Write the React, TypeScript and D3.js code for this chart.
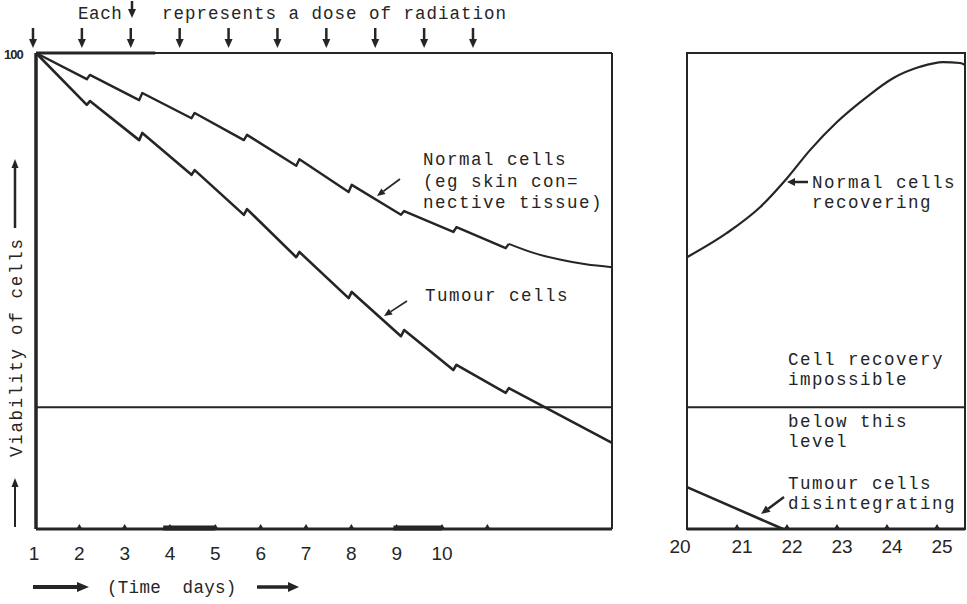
import React from 'react';
import * as d3 from 'd3';

// values (viability %, 100 = untreated)
const doseDays = [1, 2, 3, 4, 5, 6, 7, 8, 9];
const normalBefore = [94.5, 90.1, 86.3, 81.7, 76.3, 70.8, 66.0, 62.4, 59.0];
const normalAfter = [95.4, 91.6, 87.4, 82.8, 77.7, 72.3, 66.8, 63.4, 59.9];
const normalTailDays = [9.5, 10, 10.5, 11];
const normalTailValues = [58.0, 56.6, 55.6, 55.0];
const tumourBefore = [89.1, 81.7, 74.4, 66.0, 57.1, 48.5, 40.5, 33.4, 28.6];
const tumourAfter = [89.9, 83.2, 75.4, 67.2, 58.2, 49.8, 41.8, 34.5, 29.6];
const tumourEnd = { day: 11, value: 18.1 };
const thresholdLevel = 25.6;

const dayLabels = [1, 2, 3, 4, 5, 6, 7, 8, 9, 10];
const tickDays = [2, 3, 4, 5, 6, 7, 8, 9, 10, 11];
const heavyAxisSpans = [
  [3.85, 5.0],
  [8.93, 10.0],
];
const radiationDays = [1, 2, 3, 4, 5, 6, 7, 8, 9, 10];

const laterDays = [20, 21, 22, 23, 24, 25];
const recoveryDays = [20, 20.8, 21.46, 22.0, 22.46, 23.0, 23.6, 24.12, 24.66, 25.12, 25.46, 25.56];
const recoveryValues = [57.1, 62.2, 67.6, 73.7, 79.6, 85.5, 90.8, 94.7, 97.1, 98.1, 97.9, 97.5];
const disintegrateDays = [20, 21.92];
const disintegrateValues = [8.8, 0];

const ink = '#252525';
const mono = '"Liberation Mono", "DejaVu Sans Mono", monospace';
const sans = '"Liberation Sans", Arial, sans-serif';

type ArrowProps = {
  x1: number;
  y1: number;
  x2: number;
  y2: number;
  w?: number;
  head?: number;
  spread?: number;
};

function Arrow({ x1, y1, x2, y2, w = 2, head = 8, spread = 3.5 }: ArrowProps) {
  const a = Math.atan2(y2 - y1, x2 - x1);
  const bx = x2 - head * Math.cos(a);
  const by = y2 - head * Math.sin(a);
  const px = -Math.sin(a) * spread;
  const py = Math.cos(a) * spread;
  return (
    <g>
      <line x1={x1} y1={y1} x2={bx} y2={by} stroke={ink} strokeWidth={w} />
      <path
        d={`M ${x2} ${y2} L ${bx + px} ${by + py} L ${bx - px} ${by - py} Z`}
        fill={ink}
      />
    </g>
  );
}

function App() {
  const top = 53;
  const bottom = 529;

  const y = d3.scaleLinear().domain([0, 100]).range([bottom, top]);
  // course of treatment (curves)
  const x = d3.scaleLinear().domain([0, 11]).range([36, 612]);
  // hand-lettered day labels under the axis
  const xLabel = d3.scaleLinear().domain([1, 10]).range([34, 442]);
  // dose arrows along the top
  const xDose = d3.scaleLinear().domain([1, 10]).range([33, 473]);
  // later days panel
  const xLate = d3.scaleLinear().domain([20, 25]).range([687, 937]);
  const lateRight = xLate(25.56);

  const lineLinear = d3
    .line<[number, number]>()
    .x((d) => x(d[0]))
    .y((d) => y(d[1]));
  const smooth = d3
    .line<[number, number]>()
    .x((d) => x(d[0]))
    .y((d) => y(d[1]))
    .curve(d3.curveMonotoneX);

  const sawtooth = (before: number[], after: number[]) => {
    const pts: [number, number][] = [[0, 100]];
    doseDays.forEach((d, i) => {
      pts.push([d - 0.03, before[i]]);
      pts.push([d + 0.03, after[i]]);
    });
    return pts;
  };

  const normalPts = sawtooth(normalBefore, normalAfter);
  const lastNormal = normalPts[normalPts.length - 1];
  const normalTail: [number, number][] = [
    lastNormal,
    ...normalTailDays.map((d, i) => [d, normalTailValues[i]] as [number, number]),
  ];
  const tumourPts = [
    ...sawtooth(tumourBefore, tumourAfter),
    [tumourEnd.day, tumourEnd.value] as [number, number],
  ];

  const lateLine = d3
    .line<[number, number]>()
    .x((d) => xLate(d[0]))
    .y((d) => y(d[1]))
    .curve(d3.curveMonotoneX);
  const lateStraight = d3
    .line<[number, number]>()
    .x((d) => xLate(d[0]))
    .y((d) => y(d[1]));
  const recovery = recoveryDays.map((d, i) => [d, recoveryValues[i]] as [number, number]);
  const disintegrate = disintegrateDays.map(
    (d, i) => [d, disintegrateValues[i]] as [number, number]
  );

  const textStyle = { fontFamily: mono, fontSize: 17.5, letterSpacing: 1.5, fill: ink } as const;
  const numStyle = { fontFamily: sans, fontSize: 19, fill: ink } as const;

  return (
    <svg
      width={967}
      height={604}
      style={{ position: 'absolute', left: 0, top: 0, background: '#fff' }}
    >
      {/* title with dose arrows */}
      <text x={78} y={19} style={{ ...textStyle, letterSpacing: 0.6 }}>
        Each
      </text>
      <Arrow x1={132} y1={1} x2={132} y2={18} w={2.5} head={9} spread={4} />
      <text x={162} y={19} style={{ ...textStyle, letterSpacing: 1.0 }}>
        represents a dose of radiation
      </text>
      {radiationDays.map((d) => (
        <Arrow key={d} x1={xDose(d)} y1={28} x2={xDose(d)} y2={48} w={2.5} head={9} spread={4} />
      ))}

      {/* main panel */}
      <text
        x={4}
        y={59}
        style={{ fontFamily: sans, fontSize: 13, fontWeight: 700, fill: ink, letterSpacing: -1 }}
      >
        100
      </text>
      <line x1={x(0)} x2={x(11)} y1={top} y2={top} stroke={ink} strokeWidth={2} />
      <line x1={x(0)} x2={xDose(3.5)} y1={top} y2={top} stroke={ink} strokeWidth={3} />
      <line x1={x(0)} x2={x(0)} y1={top} y2={bottom} stroke={ink} strokeWidth={3.5} />
      <line x1={x(11)} x2={x(11)} y1={top} y2={bottom} stroke={ink} strokeWidth={2} />
      <line x1={x(0)} x2={x(11)} y1={bottom} y2={bottom} stroke={ink} strokeWidth={3} />
      <line
        x1={x(0)}
        x2={x(11)}
        y1={y(thresholdLevel)}
        y2={y(thresholdLevel)}
        stroke={ink}
        strokeWidth={2}
      />
      {heavyAxisSpans.map(([a, b]) => (
        <rect
          key={a}
          x={xLabel(a)}
          y={bottom - 3.5}
          width={xLabel(b) - xLabel(a)}
          height={5}
          fill={ink}
        />
      ))}
      {tickDays.map((d) => (
        <path
          key={d}
          d={`M ${xLabel(d) - 3} ${bottom} L ${xLabel(d)} ${bottom - 5} L ${xLabel(d) + 3} ${bottom} Z`}
          fill={ink}
        />
      ))}

      <path
        d={lineLinear(normalPts) ?? ''}
        fill="none"
        stroke={ink}
        strokeWidth={2.4}
        strokeLinejoin="round"
      />
      <path d={smooth(normalTail) ?? ''} fill="none" stroke={ink} strokeWidth={2} />
      <path
        d={lineLinear(tumourPts) ?? ''}
        fill="none"
        stroke={ink}
        strokeWidth={2.6}
        strokeLinejoin="round"
      />

      <text style={textStyle}>
        <tspan x={423} y={165}>Normal cells</tspan>
        <tspan x={423} y={187}>(eg skin con=</tspan>
        <tspan x={423} y={208}>nective tissue)</tspan>
      </text>
      <Arrow x1={400} y1={179} x2={377} y2={196} w={1.6} head={8} spread={3.5} />
      <text x={425} y={301} style={textStyle}>
        Tumour cells
      </text>
      <Arrow x1={407} y1={301} x2={384} y2={316} w={1.6} head={8} spread={3.5} />

      {/* y axis label */}
      <text transform="translate(22 457) rotate(-90)" style={{ ...textStyle, letterSpacing: 1.7 }}>
        Viability of cells
      </text>
      <Arrow x1={15} y1={228} x2={15} y2={159} w={2.5} head={9} spread={3.5} />
      <Arrow x1={15} y1={527} x2={15} y2={478} w={2} head={9} spread={3.5} />

      {/* x axis labels */}
      {dayLabels.map((d) => (
        <text key={d} x={xLabel(d)} y={560} textAnchor="middle" style={numStyle}>
          {d}
        </text>
      ))}
      <Arrow x1={33} y1={587} x2={89} y2={587} w={4} head={12} spread={5} />
      <text x={107} y={593} style={{ ...textStyle, letterSpacing: 0.3 }} xmlSpace="preserve">
        (Time  days)
      </text>
      <Arrow x1={257} y1={587} x2={299} y2={587} w={3.5} head={11} spread={5} />

      {/* later days panel */}
      <rect
        x={xLate(20)}
        y={top}
        width={lateRight - xLate(20)}
        height={bottom - top}
        fill="none"
        stroke={ink}
        strokeWidth={2}
      />
      <line x1={xLate(20)} x2={lateRight} y1={bottom} y2={bottom} stroke={ink} strokeWidth={3} />
      <line
        x1={xLate(20)}
        x2={lateRight}
        y1={y(thresholdLevel)}
        y2={y(thresholdLevel)}
        stroke={ink}
        strokeWidth={2}
      />
      {laterDays.slice(1).map((d) => (
        <path
          key={d}
          d={`M ${xLate(d) - 3} ${bottom} L ${xLate(d)} ${bottom - 5} L ${xLate(d) + 3} ${bottom} Z`}
          fill={ink}
        />
      ))}
      <path d={lateLine(recovery) ?? ''} fill="none" stroke={ink} strokeWidth={2.2} />
      <path d={lateStraight(disintegrate) ?? ''} fill="none" stroke={ink} strokeWidth={2.6} />
      {laterDays.map((d) => (
        <text
          key={d}
          x={d === 20 ? xLate(d) - 7 : xLate(d) + 5}
          y={553}
          textAnchor="middle"
          style={numStyle}
        >
          {d}
        </text>
      ))}

      <Arrow x1={808} y1={182} x2={787} y2={182} w={2.5} head={8} spread={4} />
      <text style={textStyle}>
        <tspan x={812} y={188}>Normal cells</tspan>
        <tspan x={812} y={208}>recovering</tspan>
      </text>
      <text style={textStyle}>
        <tspan x={788} y={365}>Cell recovery</tspan>
        <tspan x={788} y={385}>impossible</tspan>
      </text>
      <text style={textStyle}>
        <tspan x={788} y={427}>below this</tspan>
        <tspan x={788} y={447}>level</tspan>
      </text>
      <text style={textStyle}>
        <tspan x={788} y={489}>Tumour cells</tspan>
        <tspan x={788} y={509}>disintegrating</tspan>
      </text>
      <Arrow x1={784} y1={497} x2={761} y2={514} w={2.5} head={9} spread={4} />
    </svg>
  );
}

export default App;
